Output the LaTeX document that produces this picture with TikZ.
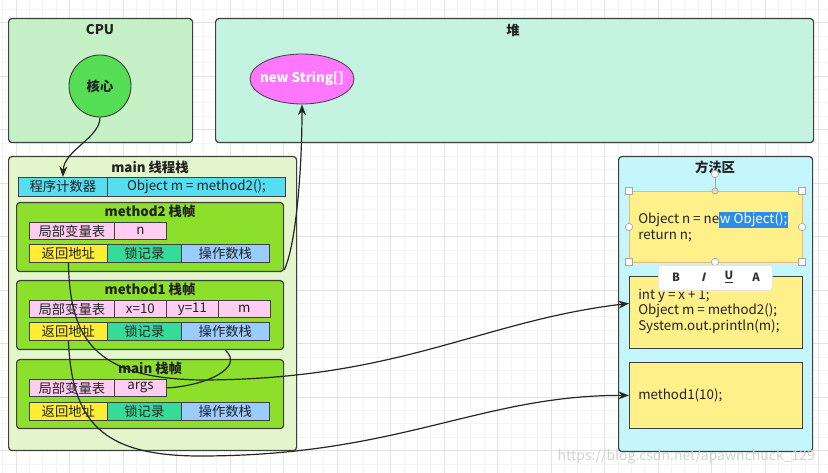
\documentclass[tikz,border=0pt]{standalone}
\usepackage{fontspec}
\setmainfont{Noto Sans CJK SC}
\newfontfamily\slantfont[FakeSlant=0.25]{Noto Sans CJK SC}
\usetikzlibrary{arrows.meta,shapes.geometric}

\definecolor{edgegray}{HTML}{3F3F3F}
\definecolor{txtgray}{HTML}{222222}
\definecolor{cpufill}{HTML}{C6F1C6}
\definecolor{heapfill}{HTML}{C4F4E1}
\definecolor{corefill}{HTML}{55DD55}
\definecolor{strfill}{HTML}{FF77FF}
\definecolor{stackfill}{HTML}{E3F6CC}
\definecolor{framefill}{HTML}{8CDF2A}
\definecolor{pcfill}{HTML}{55DDF0}
\definecolor{lvfill}{HTML}{FFCCF2}
\definecolor{retfill}{HTML}{FFEE33}
\definecolor{lockfill}{HTML}{33DD99}
\definecolor{opsfill}{HTML}{99CCFF}
\definecolor{methfill}{HTML}{C4F6FC}
\definecolor{codefill}{HTML}{FFF08A}
\definecolor{selblue}{HTML}{2B8CEA}
\definecolor{selorange}{HTML}{F2B36E}
\definecolor{minorgrid}{HTML}{F3F3F3}
\definecolor{majorgrid}{HTML}{E3E3E3}

\newcommand{\selhl}[1]{{\setlength{\fboxsep}{0.6pt}\colorbox{selblue}{\textcolor{white}{#1}}}}

\begin{document}
\begin{tikzpicture}[x=0.75pt,y=0.75pt,yscale=-1,xscale=1,
  panel/.style={draw=edgegray, line width=0.9pt, rounded corners=2.5pt, anchor=north west, inner sep=0pt},
  cell/.style={draw=edgegray, line width=0.6pt, anchor=north west, inner sep=0pt, text=txtgray, font=\fontsize{10}{12}\selectfont},
  paneltitle/.style={font=\bfseries\fontsize{10}{12}\selectfont, text=txtgray},
  codetext/.style={anchor=west, align=left, inner sep=0pt, text=txtgray, font=\fontsize{10}{11.7}\selectfont},
  conn/.style={draw=black!85, line width=0.9pt},
  tip/.style={-{Stealth[length=8pt,width=6pt]}},
  handle/.style={draw=gray!70, fill=white, line width=0.5pt, inner sep=0pt, minimum size=5.25pt},
  knob/.style={circle, draw=gray!70, fill=white, line width=0.5pt, inner sep=0pt, minimum size=5.5pt},
  tbtn/.style={font=\bfseries\fontsize{8.5}{10}\selectfont, text=black!80}]
%set diagram to the size of the screenshot
\useasboundingbox (0,0) rectangle (828,473);
\fill[white] (0,0) rectangle (828,473);

%Grid
\foreach \i in {0,...,62} {\draw[minorgrid, line width=0.4pt] ({2.625+\i*13.375},0) -- ++(0,473);}
\foreach \i in {0,...,35} {\draw[minorgrid, line width=0.4pt] (0,{9.125+\i*13.375}) -- ++(828,0);}
\foreach \i in {0,...,15} {\draw[majorgrid, line width=0.5pt] ({16+\i*53.5},0) -- ++(0,473);}
\foreach \i in {0,...,8} {\draw[majorgrid, line width=0.5pt] (0,{22.5+\i*53.5}) -- ++(828,0);}

%Shape: CPU
\node[panel, fill=cpufill, minimum width=138pt, minimum height=93pt] (cpu) at (8,18) {};
\node[paneltitle] (cputitle) at (100,30) {CPU};
\node[circle, draw=edgegray, line width=0.7pt, fill=corefill, minimum size=46.5pt, inner sep=0pt, paneltitle] (core) at (100,86) {核心};

%Shape: heap
\node[panel, fill=heapfill, minimum width=448.5pt, minimum height=93pt] (heap) at (215,18) {};
\node[paneltitle] (heaptitle) at (513,30) {堆};
\node[ellipse, draw=edgegray, line width=0.6pt, fill=strfill, minimum width=78pt, minimum height=37.5pt, inner sep=0pt] (str) at (302,79) {};
\node[font=\bfseries\fontsize{10}{12}\selectfont, text=white] (strtxt) at (str) {new String[]};

%Shape: main thread stack
\node[panel, fill=stackfill, minimum width=216pt, minimum height=220.5pt] (stack) at (8,156) {};
\node[paneltitle] (stacktitle) at (150,167) {main 线程栈};
\node[cell, fill=pcfill, minimum width=66.75pt, minimum height=14.25pt] (pc) at (18,177) {程序计数器};
\node[cell, fill=pcfill, minimum width=133.5pt, minimum height=14.25pt] (pcval) at (107,177) {Object m = method2();};

%Shape: method2 frame
\node[panel, fill=framefill, minimum width=200.25pt, minimum height=51.75pt] (m2) at (16,202) {};
\node[paneltitle] (m2title) at (150,211) {method2 栈帧};
\node[cell, fill=lvfill, minimum width=63.75pt, minimum height=12.75pt] (m2lv) at (29,222) {局部变量表};
\node[cell, fill=lvfill, minimum width=39pt, minimum height=12.75pt] (m2n) at (114,222) {n};
\node[cell, fill=retfill, minimum width=58.5pt, minimum height=13.5pt] (m2ret) at (29,244) {返回地址};
\node[cell, fill=lockfill, minimum width=55.5pt, minimum height=13.5pt] (m2lock) at (107,244) {锁记录};
\node[cell, fill=opsfill, minimum width=66pt, minimum height=13.5pt] (m2ops) at (181,244) {操作数栈};

%Shape: method1 frame
\node[panel, fill=framefill, minimum width=200.25pt, minimum height=51.75pt] (m1) at (16,280) {};
\node[paneltitle] (m1title) at (150,289) {method1 栈帧};
\node[cell, fill=lvfill, minimum width=63.75pt, minimum height=12.75pt] (m1lv) at (29,300) {局部变量表};
\node[cell, fill=lvfill, minimum width=39pt, minimum height=12.75pt] (m1x) at (114,300) {x=10};
\node[cell, fill=lvfill, minimum width=39pt, minimum height=12.75pt] (m1y) at (166,300) {y=11};
\node[cell, fill=lvfill, minimum width=39pt, minimum height=12.75pt] (m1m) at (218,300) {m};
\node[cell, fill=retfill, minimum width=58.5pt, minimum height=13.5pt] (m1ret) at (29,322) {返回地址};
\node[cell, fill=lockfill, minimum width=55.5pt, minimum height=13.5pt] (m1lock) at (107,322) {锁记录};
\node[cell, fill=opsfill, minimum width=66pt, minimum height=13.5pt] (m1ops) at (181,322) {操作数栈};

%Shape: main frame
\node[panel, fill=framefill, minimum width=200.25pt, minimum height=51.75pt] (mf) at (16,359) {};
\node[paneltitle] (mftitle) at (150,368) {main 栈帧};
\node[cell, fill=lvfill, minimum width=63.75pt, minimum height=12.75pt] (mflv) at (29,379) {局部变量表};
\node[cell, fill=lvfill, minimum width=39pt, minimum height=12.75pt] (mfargs) at (114,379) {args};
\node[cell, fill=retfill, minimum width=58.5pt, minimum height=13.5pt] (mfret) at (29,402) {返回地址};
\node[cell, fill=lockfill, minimum width=55.5pt, minimum height=13.5pt] (mflock) at (107,402) {锁记录};
\node[cell, fill=opsfill, minimum width=66pt, minimum height=13.5pt] (mfops) at (181,402) {操作数栈};

%Shape: method area
\node[panel, fill=methfill, minimum width=145.5pt, minimum height=221.25pt] (meth) at (618,156) {};
\node[paneltitle] (methtitle) at (715,167) {方法区};
\node[cell, fill=codefill, draw=selorange, minimum width=129.75pt, minimum height=53.25pt] (code1) at (629,191) {};
\node[codetext] (code1txt) at (638,227) {Object n = ne\selhl{w Object();}\\return n;};
\node[cell, fill=codefill, minimum width=129.75pt, minimum height=54pt] (code2) at (629,276) {};
\node[codetext] (code2txt) at (638,311) {int y = x + 1;\\Object m = method2();\\System.out.println(m);};
\node[cell, fill=codefill, minimum width=129.75pt, minimum height=49.5pt] (code3) at (629,362) {};
\node[codetext] (code3txt) at (638,395) {method1(10);};

%selection handles
\draw[gray!70, line width=0.5pt] (715,174) -- (715,191);
\node[knob] (rot) at (715,174) {};
\node[knob, fill=selorange!60, minimum size=4.5pt] (htop) at (715,191) {};
\node[handle] (hnw) at (629,191) {};
\node[handle] (hne) at (802,191) {};
\node[handle] (hsw) at (629,262) {};
\node[handle] (hse) at (802,262) {};
\node[knob] (hw) at (629,227) {};
\node[knob] (he) at (802,227) {};
\node[knob] (hs) at (715,262) {};

%text toolbar
\node[draw=gray!25, fill=white, rounded corners=2pt, minimum width=85.5pt, minimum height=18.75pt, anchor=north west, inner sep=0pt] (tbar) at (658,265) {};
\node[tbtn] (tbold) at (676,277) {B};
\node[tbtn] (titalic) at (703,277) {\slantfont\bfseries I};
\node[tbtn] (tunder) at (729,277) {\underline{U}};
\node[tbtn] (tcolor) at (756,277) {A};

%Connectors
\draw[conn, tip] (core.south) .. controls (100,138) and (64,150) .. (pc.north);
\draw[conn, tip] ([yshift=-7.5pt]m1.north east) .. controls (296,245) and (302,170) .. (str.south);
\draw[conn] (mfargs.east) .. controls (205,386) and (245,368) .. (m1ops.south |- m1.south);
\draw[conn, tip] (m2ret.south) .. controls (70,340) and (95,378) .. (200,380) .. controls (400,380) and (480,321) .. ([yshift=-6.75pt]code2.west);
\draw[conn, tip] (m1ret.south) .. controls (72,420) and (100,456) .. (200,456) .. controls (400,456) and (480,395) .. (code3.west);

% Text Node
\node[anchor=west, text=gray!35, font=\fontsize{10.5}{12}\selectfont] (wmark) at (553,457) {https://blog.csdn.net/apawnchuck\_129};

\end{tikzpicture}
\end{document}
